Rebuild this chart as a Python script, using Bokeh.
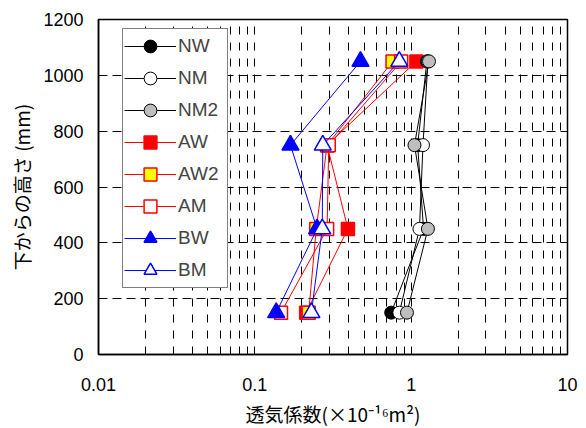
from bokeh.plotting import figure
from bokeh.models import FixedTicker, CustomJSTickFormatter, Legend, LegendItem
from bokeh.embed import file_html
from bokeh.resources import INLINE

# ---- data ----
heights = [150, 450, 750, 1050]
nw = [0.745, 1.20, 1.10, 1.26]
nm = [0.84, 1.13, 1.19, 1.28]
nm2 = [0.94, 1.28, 1.05, 1.30]
aw = [0.213, 0.394, 0.29, 1.08]
aw2 = [0.221, 0.247, 0.29, 0.76]
am = [0.147, 0.29, 0.297, 0.863]
bw = [0.137, 0.25, 0.169, 0.474]
bm = [0.23, 0.27, 0.272, 0.84]

x_ticks = [0.01, 0.1, 1, 10]
y_ticks = [0, 200, 400, 600, 800, 1000, 1200]
x_label = "透気係数(×10⁻¹⁶m²)"
y_label = "下からの高さ (mm)"

# name, values, line color, marker, fill, outline, size
series = [
    ("NW", nw, "black", "circle", "black", "black", 13),
    ("NM", nm, "black", "circle", "white", "black", 13),
    ("NM2", nm2, "black", "circle", "#BEBEBE", "black", 13),
    ("AW", aw, "#FF0000", "square", "#FF0000", "#FF0000", 13),
    ("AW2", aw2, "#FF0000", "square", "#FFFF00", "#FF0000", 13),
    ("AM", am, "#FF0000", "square", "white", "#FF0000", 13),
    ("BW", bw, "#0000FF", "triangle", "#0000FF", "#0000FF", 17),
    ("BM", bm, "#0000FF", "triangle", "white", "#0000FF", 17),
]
draw_order = ["AW", "AW2", "AM", "BW", "BM", "NW", "NM", "NM2"]

p = figure(frame_width=469, frame_height=335, x_axis_type="log",
           x_range=(0.01, 10), y_range=(0, 1200),
           output_backend="svg", toolbar_location=None,
           min_border_left=98, min_border_right=17, min_border_top=19, min_border_bottom=72)

p.background_fill_color = "white"
p.border_fill_color = "white"
p.outline_line_color = "black"
p.outline_line_width = 1.5

# grids
grid_x = []
for dec in [0.01, 0.1, 1]:
    for k in range(2, 10):
        grid_x.append(dec * k)
    if dec != 0.01:
        grid_x.append(dec)
p.xgrid.ticker = FixedTicker(ticks=sorted(grid_x))
p.xgrid.grid_line_color = "black"
p.xgrid.grid_line_width = 1
p.xgrid.grid_line_dash = "8 8"
p.ygrid.ticker = FixedTicker(ticks=[200, 400, 600, 800, 1000])
p.ygrid.grid_line_color = "black"
p.ygrid.grid_line_width = 1
p.ygrid.grid_line_dash = "9 5"

# axes
p.xaxis.ticker = FixedTicker(ticks=x_ticks)
p.xaxis.formatter = CustomJSTickFormatter(code="return tick.toString();")
p.yaxis.ticker = FixedTicker(ticks=y_ticks)
for ax in (p.xaxis[0], p.yaxis[0]):
    ax.major_tick_in = 5
    ax.major_tick_out = 0
    ax.minor_tick_line_color = None
    ax.axis_line_color = "black"
    ax.axis_line_width = 1.5
    ax.major_tick_line_color = "black"
    ax.major_label_text_font = "Liberation Sans"
    ax.major_label_text_font_size = "18px"
    ax.major_label_text_color = "black"
    ax.axis_label_text_font = "Noto Sans CJK JP"
    ax.axis_label_text_font_size = "19px"
    ax.axis_label_text_font_style = "normal"
    ax.axis_label_text_color = "black"
p.xaxis.axis_label = x_label
p.yaxis.axis_label = y_label
p.xaxis.major_label_standoff = 23
p.xaxis.axis_label_standoff = 6
p.yaxis.major_label_standoff = 15
p.yaxis.axis_label_standoff = 5

renderers = {}
for name in draw_order:
    nm_, vals, lc, mk, fc, oc, sz = next(s for s in series if s[0] == name)
    lr = p.line(vals, heights, line_color=lc, line_width=1)
    sr = p.scatter(vals, heights, marker=mk, size=sz, fill_color=fc, line_color=oc,
                   line_width=1.5 if mk != "circle" else 1)
    renderers[name] = [lr, sr]

items = [LegendItem(label=s[0], renderers=renderers[s[0]]) for s in series]
legend = Legend(items=items, location=(24, 66), glyph_width=52, glyph_height=32,
                label_height=32, label_width=48, spacing=0, padding=1, label_standoff=2,
                margin=0,
                label_text_font="Liberation Sans", label_text_font_size="19px",
                border_line_color="black", border_line_width=1.5,
                background_fill_color="white", background_fill_alpha=1)
p.add_layout(legend)

open("out.html", "w").write(file_html(p, INLINE))
